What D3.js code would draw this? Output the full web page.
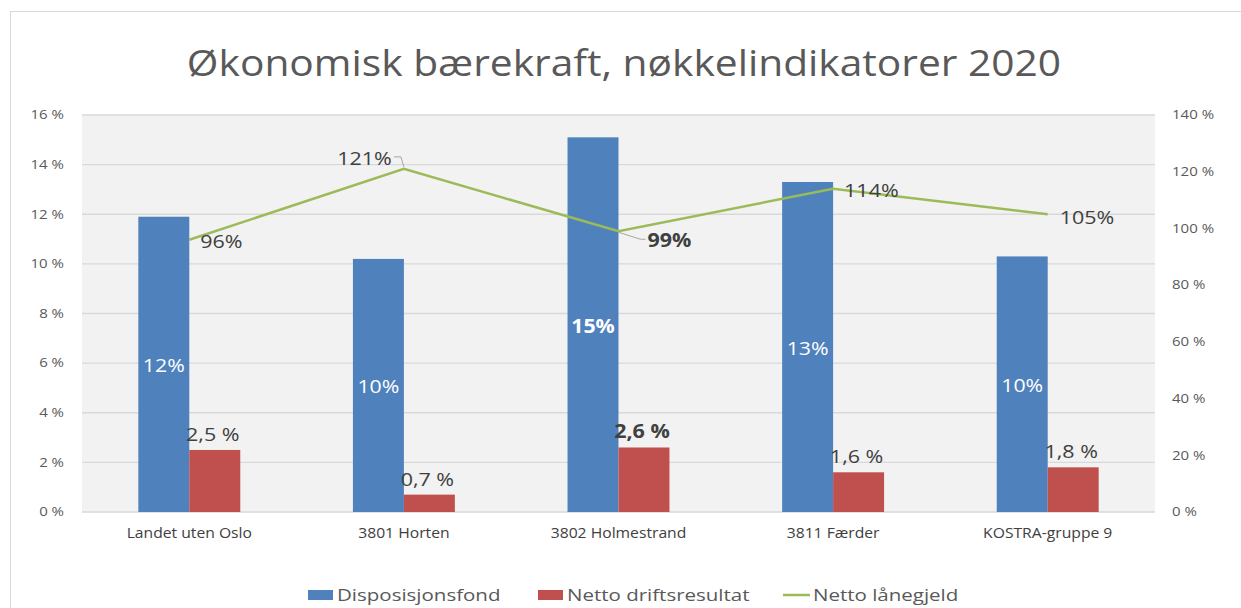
<!DOCTYPE html>
<html><head><meta charset="utf-8">
<script src="https://cdn.jsdelivr.net/npm/d3@7"></script>
<style>body{margin:0;background:#fff}svg{display:block}text{font-family:"Open Sans",sans-serif}</style>
</head><body><svg id="c" width="1241" height="608"></svg>
<script>
const categories = ["Landet uten Oslo","3801 Horten","3802 Holmestrand","3811 Færder","KOSTRA-gruppe 9"];
const disposisjonsfond = [11.9, 10.2, 15.1, 13.3, 10.3];
const nettoDrift = [2.5, 0.7, 2.6, 1.6, 1.8];
const nettoLanegjeld = [96, 121, 99, 114, 105];
const dispLabels = ["12%","10%","15%","13%","10%"];
const driftLabels = ["2,5 %","0,7 %","2,6 %","1,6 %","1,8 %"];
const laneLabels = ["96%","121%","99%","114%","105%"];
const leftTicks = [0,2,4,6,8,10,12,14,16];
const rightTicks = [0,20,40,60,80,100,120,140];
const seriesNames = ["Disposisjonsfond","Netto driftsresultat","Netto lånegjeld"];
const boldIndex = 2;

const colors = {blue:"#4f81bd", red:"#c0504d", green:"#9bbb59"};
const svg = d3.select("#c");
const L = 82, R = 1155, T = 115, B = 512;

function stretch(sel, k){
  sel.each(function(){
    const w = this.getComputedTextLength();
    this.setAttribute("textLength", w*k);
    this.setAttribute("lengthAdjust","spacingAndGlyphs");
  });
  return sel;
}

svg.append("rect").attr("x",10.5).attr("y",11.5).attr("width",1240).attr("height",610)
  .attr("fill","#fff").attr("stroke","#d9d9d9");

stretch(svg.append("text").attr("x",624).attr("y",76).attr("text-anchor","middle")
  .attr("font-size",37).attr("fill","#595959")
  .text("Økonomisk bærekraft, nøkkelindikatorer 2020"), 1.1);

const x0 = d3.scaleBand().domain(categories).range([L,R]).paddingInner(0.525).paddingOuter(0.2625);
const x1 = d3.scaleBand().domain([0,1]).range([0,x0.bandwidth()]);
const y = d3.scaleLinear().domain([0,16]).range([B,T]);
const yR = d3.scaleLinear().domain([0,140]).range([B,T]);

svg.append("rect").attr("x",L).attr("y",T).attr("width",R-L).attr("height",B-T).attr("fill","#f2f2f2");
svg.append("g").selectAll("line").data(leftTicks).join("line")
  .attr("x1",L).attr("x2",R).attr("y1",d=>y(d)).attr("y2",d=>y(d))
  .attr("stroke","#d9d9d9").attr("stroke-width",1.3);

const axL = svg.append("g").attr("transform",`translate(${L},0)`)
  .call(d3.axisLeft(y).tickValues(leftTicks).tickFormat(d=>d+" %").tickSize(0).tickPadding(18));
const axR = svg.append("g").attr("transform",`translate(${R},0)`)
  .call(d3.axisRight(yR).tickValues(rightTicks).tickFormat(d=>d+" %").tickSize(0).tickPadding(17));
[axL,axR].forEach(a=>{a.select(".domain").remove();
  stretch(a.selectAll("text").attr("font-size",12).attr("fill","#595959").attr("font-family","Open Sans"),1.25);});

const xa = svg.append("g").attr("transform",`translate(0,${B})`)
  .call(d3.axisBottom(x0).tickSize(0).tickPadding(16));
xa.select(".domain").remove();
stretch(xa.selectAll("text").attr("font-size",14).attr("fill","#404040").attr("font-family","Open Sans"),1.12);

// bars
const g = svg.append("g");
categories.forEach((c,i)=>{
  const xb = x0(c)+x1(0), xr = x0(c)+x1(1), w = x1.bandwidth();
  g.append("rect").attr("x",xb).attr("y",y(disposisjonsfond[i])).attr("width",w).attr("height",B-y(disposisjonsfond[i])).attr("fill",colors.blue);
  g.append("rect").attr("x",xr).attr("y",y(nettoDrift[i])).attr("width",w).attr("height",B-y(nettoDrift[i])).attr("fill",colors.red);
  stretch(g.append("text").attr("x",xb+w/2).attr("y",(y(disposisjonsfond[i])+B)/2+8).attr("text-anchor","middle")
    .attr("font-size",19).attr("fill","#fff").attr("font-weight",i===boldIndex?"bold":"normal").text(dispLabels[i]),1.12);
  stretch(g.append("text").attr("x",xr+w/2-2).attr("y",y(nettoDrift[i])-9).attr("text-anchor","middle")
    .attr("font-size",19).attr("fill","#404040").attr("font-weight",i===boldIndex?"bold":"normal").text(driftLabels[i]),1.13);
});

// line
const px = c => x0(c)+x0.bandwidth()/2;
const line = d3.line().x((d,i)=>px(categories[i])).y(d=>yR(d));
svg.append("path").datum(nettoLanegjeld).attr("d",line).attr("fill","none").attr("stroke",colors.green).attr("stroke-width",2.5);

const lblOff = [{dx:11,dy:8,a:"start"},{dx:-12,dy:-4,a:"end"},{dx:29,dy:16,a:"start"},{dx:11,dy:8,a:"start"},{dx:12,dy:10,a:"start"}];
nettoLanegjeld.forEach((v,i)=>{
  const X = px(categories[i]), Y = yR(v), o = lblOff[i];
  stretch(svg.append("text").attr("x",X+o.dx).attr("y",Y+o.dy).attr("text-anchor",o.a)
    .attr("font-size",19).attr("fill","#404040").attr("font-weight",i===boldIndex?"bold":"normal").text(laneLabels[i]),1.13);
});
// leader lines
{
  const X = px(categories[1]), Y = yR(nettoLanegjeld[1]);
  svg.append("path").attr("d",`M${X-10},${Y-12}H${X-3}L${X},${Y-2}`).attr("fill","none").attr("stroke","#a6a6a6");
  const X2 = px(categories[2]), Y2 = yR(nettoLanegjeld[2]);
  svg.append("path").attr("d",`M${X2},${Y2+1}L${X2+22},${Y2+8}H${X2+27}`).attr("fill","none").attr("stroke","#a6a6a6");
}

// legend
const legY = 595;
const lg = svg.append("g");
const legX = [308, 538, 783];
seriesNames.forEach((s,i)=>{
  if(i<2) lg.append("rect").attr("x",legX[i]).attr("y",legY-5).attr("width",25).attr("height",10).attr("fill",i===0?colors.blue:colors.red);
  else lg.append("line").attr("x1",legX[i]).attr("x2",legX[i]+27).attr("y1",legY).attr("y2",legY).attr("stroke",colors.green).attr("stroke-width",2.5);
  stretch(lg.append("text").attr("x",legX[i]+(i<2?29:30)).attr("y",legY+6).attr("font-size",16).attr("fill","#595959").text(s),1.28);
});
</script></body></html>
